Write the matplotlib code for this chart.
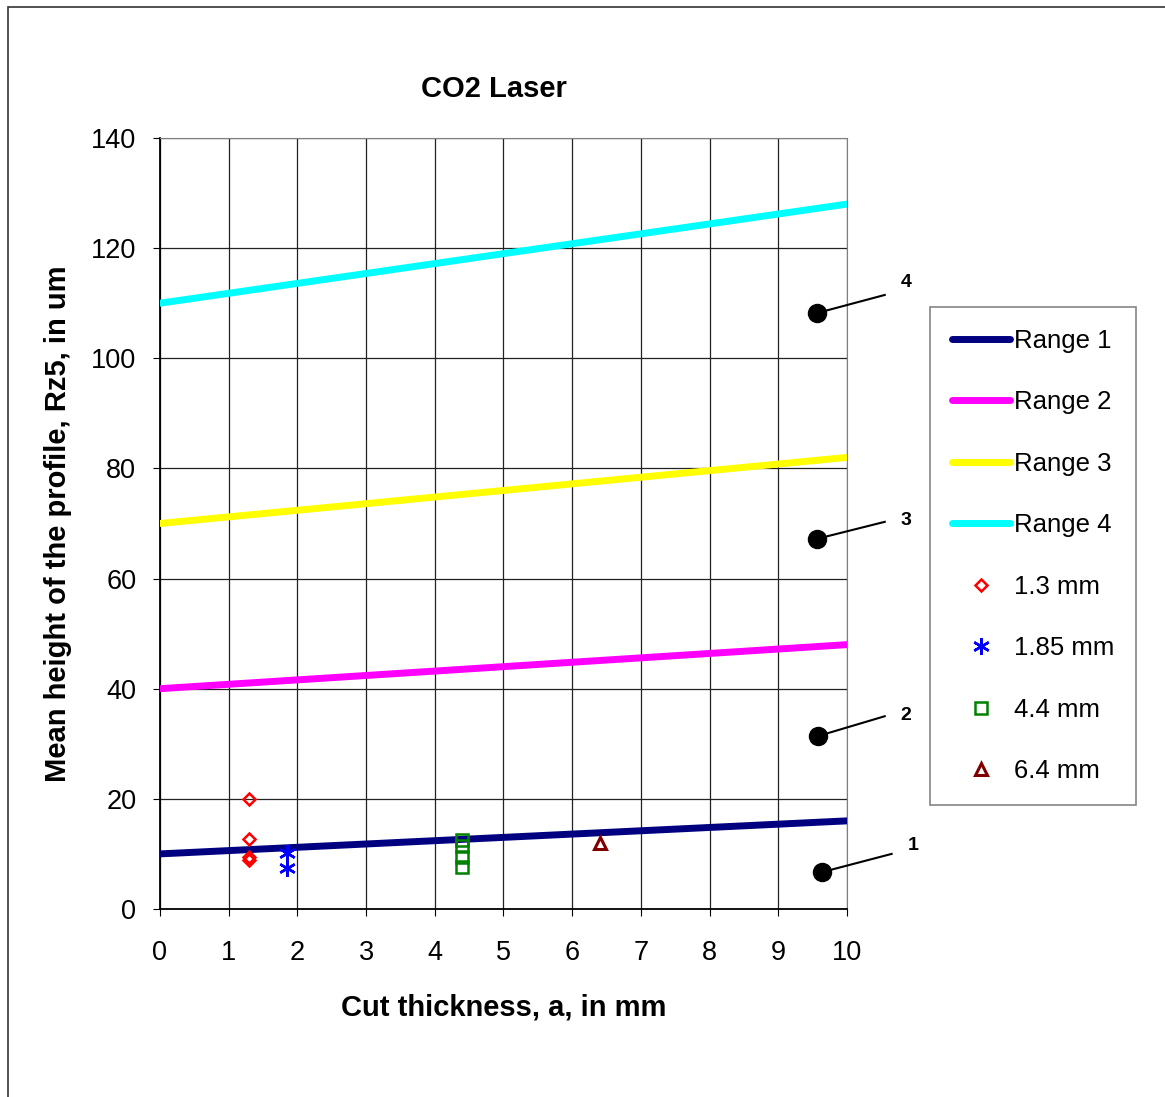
import matplotlib
matplotlib.use("Agg")
import matplotlib.pyplot as plt
from matplotlib.patches import Rectangle

plt.rcParams['font.family'] = ['Liberation Sans', 'DejaVu Sans']

# Fitted ranges (linear, from a = 0 to a = 10 mm)
range_x = [0, 10]
range1 = [10, 16]
range2 = [40, 48]
range3 = [70, 82]
range4 = [110, 128]
range_names = ["Range 1", "Range 2", "Range 3", "Range 4"]
range_colors = ["#000080", "#FF00FF", "#FFFF00", "#00FFFF"]

# Measured Rz5 values per sheet thickness
x_13 = [1.3, 1.3, 1.3, 1.3]
y_13 = [20.0, 12.7, 9.4, 8.9]
x_185 = [1.85, 1.85]
y_185 = [10.2, 7.5]
x_44 = [4.4, 4.4, 4.4, 4.4]
y_44 = [12.5, 11.5, 9.4, 7.7]
x_64 = [6.4]
y_64 = [12.0]

# Range marker dots and their labels
marker_x = [9.56, 9.56, 9.58, 9.64]
marker_y = [108.2, 67.2, 31.4, 6.7]
marker_labels = ["4", "3", "2", "1"]
leader_end_x = [10.55, 10.55, 10.55, 10.65]
leader_end_y = [111.5, 70.3, 35.0, 10.0]
label_x = [10.86, 10.86, 10.86, 10.96]
label_y = [113.7, 70.5, 35.2, 11.6]

fig = plt.figure(figsize=(11.65, 10.97), dpi=100)
ax = fig.add_axes([0.1373, 0.1714, 0.5897, 0.7028])

# Outer chart frame
fig.patches.append(Rectangle((8 / 1165, -0.05), 1.2, 1 - 7 / 1097 + 0.05,
                             transform=fig.transFigure, fill=False,
                             edgecolor="#333333", lw=1.2))

handles = []
for ys, c, n in zip([range1, range2, range3, range4], range_colors, range_names):
    h, = ax.plot(range_x, ys, color=c, lw=5, solid_capstyle="round", label=n, zorder=3)
    handles.append(h)

h1, = ax.plot(x_13, y_13, ls="none", marker="D", ms=6, mfc="none", mec="#FF0000",
              mew=1.8, label="1.3 mm", zorder=4)
h2, = ax.plot(x_185, y_185, ls="none", marker=(6, 2, 0), ms=12, mec="#0000FF",
              color="#0000FF", mew=1.8, label="1.85 mm", zorder=4)
h3, = ax.plot(x_44, y_44, ls="none", marker="s", ms=8, mfc="none", mec="#008000",
              mew=1.8, label="4.4 mm", zorder=4)
h4, = ax.plot(x_64, y_64, ls="none", marker="^", ms=9, mfc="none", mec="#800000",
              mew=2.2, label="6.4 mm", zorder=4)
handles += [h1, h2, h3, h4]

for mx, my, ex, ey, lx, ly, t in zip(marker_x, marker_y, leader_end_x, leader_end_y,
                                     label_x, label_y, marker_labels):
    ax.plot([mx, ex], [my, ey], color="black", lw=1.5, clip_on=False, zorder=5)
    ax.plot([mx], [my], "o", color="black", ms=13, clip_on=False, zorder=6)
    ax.text(lx, ly, t, fontsize=14, fontweight="bold", ha="center", va="center")

ax.set_xlim(0, 10)
ax.set_ylim(0, 140)
ax.set_xticks(range(0, 11))
ax.set_yticks(range(0, 141, 20))
ax.grid(True, color="#222222", lw=0.9)
ax.set_axisbelow(True)
ax.tick_params(labelsize=19.5, length=5, direction="out")
ax.tick_params(axis="x", pad=17)
ax.tick_params(axis="y", pad=12)
for s in ["top", "right"]:
    ax.spines[s].set_color("#808080")
for s in ["left", "bottom"]:
    ax.spines[s].set_color("black")
    ax.spines[s].set_linewidth(1.3)

fig.text(494 / 1165, 1 - 89 / 1097, "CO2 Laser", fontsize=21, fontweight="bold",
         ha="center", va="center")
ax.set_xlabel("Cut thickness, a, in mm", fontsize=21, fontweight="bold", labelpad=20)
ax.set_ylabel("Mean height of the profile, Rz5, in um", fontsize=21, fontweight="bold",
              labelpad=14)

leg = fig.legend(handles=handles, loc="upper left",
                 bbox_to_anchor=(930 / 1165, 1 - 307 / 1097), fontsize=18.5,
                 frameon=True, fancybox=False, edgecolor="#666666",
                 handlelength=2.25, handletextpad=0.15, labelspacing=1.46,
                 borderpad=0.85, borderaxespad=0)
leg.get_frame().set_linewidth(1.2)

fig.savefig("out.png", dpi=100)
